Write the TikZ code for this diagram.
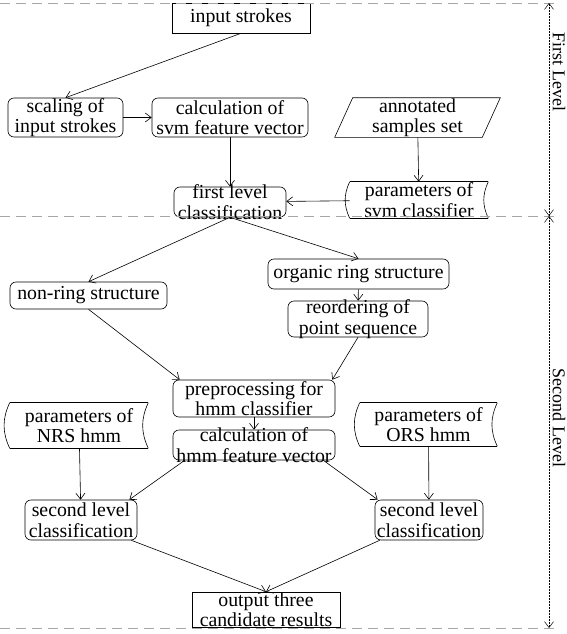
\documentclass[tikz,border=0pt]{standalone}
\usepackage{fontspec}
\setmainfont{Liberation Serif}
\usetikzlibrary{arrows.meta}

\begin{document}
\begin{tikzpicture}[x=1pt, y=-1pt, line width=0.6pt,
    font=\fontsize{19.8}{20.5}\selectfont,
    box/.style={draw, align=center, inner xsep=0pt, inner ysep=-2pt},
    rbox/.style={box, rounded corners=6pt},
    stored/.style={align=center, inner sep=0pt, append after command={
        (\tikzlastnode.north west) edge (\tikzlastnode.north east)
        (\tikzlastnode.south west) edge (\tikzlastnode.south east)
        (\tikzlastnode.north west) edge[bend right=25] (\tikzlastnode.south west)
        (\tikzlastnode.north east) edge[bend right=25] (\tikzlastnode.south east)}},
    arr/.style={-{Straight Barb[length=6pt, width=9pt]}},
    sep/.style={gray!70, dash pattern=on 10pt off 6pt},
    lvl/.style={{Straight Barb[length=6pt, width=9pt]}-{Straight Barb[length=6pt, width=9pt]}, densely dotted, line width=0.5pt}]
    \useasboundingbox (0,0) rectangle (566,634);

    % first level
    \node[box, minimum width=138pt, minimum height=30pt] (input) at (241,18) {input strokes};
    \node[rbox, minimum width=115pt, minimum height=39pt] (scale) at (65.5,117.5) {scaling of\\input strokes};
    \node[rbox, minimum width=156pt, minimum height=39pt] (svmfeat) at (230,117.5) {calculation of\\svm feature vector};
    \node[align=center, inner sep=0pt, minimum width=147pt, minimum height=39pt] (samples) at (417.5,117.5) {annotated\\samples set};
    \node[rbox, inner ysep=-4.5pt, minimum width=112pt, minimum height=30pt] (firstcls) at (230,202) {first level\\classification};
    \node[stored, inner ysep=-1pt, minimum width=138pt, minimum height=36pt] (svmpar) at (419,200) {parameters of\\svm classifier};

    \draw ([xshift=9pt]samples.north west) -- ([xshift=9pt]samples.north east)
        -- ([xshift=-9pt]samples.south east) -- ([xshift=-9pt]samples.south west) -- cycle;

    % second level
    \node[rbox, minimum width=157pt, minimum height=27pt] (nonring) at (88.5,295.5) {non-ring structure};
    \node[rbox, minimum width=181pt, minimum height=30pt] (organic) at (358.5,274) {organic ring structure};
    \node[rbox, minimum width=140pt, minimum height=36pt] (reorder) at (358,319) {reordering of\\point sequence};
    \node[rbox, minimum width=162pt, minimum height=37pt] (prep) at (254,398.5) {preprocessing for\\hmm classifier};
    \node[rbox, inner ysep=-4.5pt, minimum width=162pt, minimum height=30pt] (hmmfeat) at (254,445) {calculation of\\hmm feature vector};
    \node[stored, minimum width=138pt, minimum height=45pt] (nrspar) at (79,425.5) {parameters of\\NRS hmm};
    \node[stored, minimum width=137pt, minimum height=43pt] (orspar) at (428.5,424.5) {parameters of\\ORS hmm};
    \node[rbox, minimum width=112pt, minimum height=40pt] (left2) at (81,520) {second level\\classification};
    \node[rbox, minimum width=108pt, minimum height=40pt] (right2) at (429,520) {second level\\classification};
    \node[box, minimum width=148pt, minimum height=35pt] (output) at (266,609.5) {output three\\candidate results};

    \draw[arr] (input.south) -- (scale.north);
    \draw[arr] (scale) -- (svmfeat);
    \draw[arr] (svmfeat) -- (firstcls);
    \draw[arr] (samples) -- (svmpar);
    \draw[arr] (svmpar) -- (firstcls);
    \draw[arr] (firstcls.south) -- (nonring.north);
    \draw[arr] (firstcls.south) -- (organic.north);
    \draw[arr] (organic) -- (reorder);
    \draw[arr] (nonring.south) -- ([xshift=7pt]prep.north west);
    \draw[arr] (reorder.south) -- ([xshift=-3pt]prep.north east);
    \draw[arr] (prep) -- (hmmfeat);
    \draw[arr] (nrspar) -- (left2);
    \draw[arr] ([xshift=12pt]hmmfeat.south west) -- ([xshift=-8pt]left2.north east);
    \draw[arr] ([xshift=-12pt]hmmfeat.south east) -- ([xshift=3pt]right2.north west);
    \draw[arr] (orspar) -- (right2);
    \draw[arr] ([xshift=-6pt]left2.south east) -- (output.north);
    \draw[arr] ([xshift=5pt]right2.south west) -- (output.north);

    % level marks
    \coordinate (lvltop) at (549,3);
    \coordinate (lvlmid) at (549,216);
    \coordinate (lvlbot) at (549,628);
    \draw[sep] (0,3) -- (556,3);
    \draw[sep] (0,216) -- (556,216);
    \draw[sep] (0,628) -- (556,628);
    \draw[lvl] (lvltop) -- (lvlmid);
    \draw[lvl] (lvlmid) -- (lvlbot);
    \node[rotate=-90, font=\fontsize{18}{18}\selectfont] (firstlvl) at (559,72) {First Level};
    \node[rotate=-90, font=\fontsize{18}{18}\selectfont] (secondlvl) at (559,418) {Second Level};
\end{tikzpicture}
\end{document}
